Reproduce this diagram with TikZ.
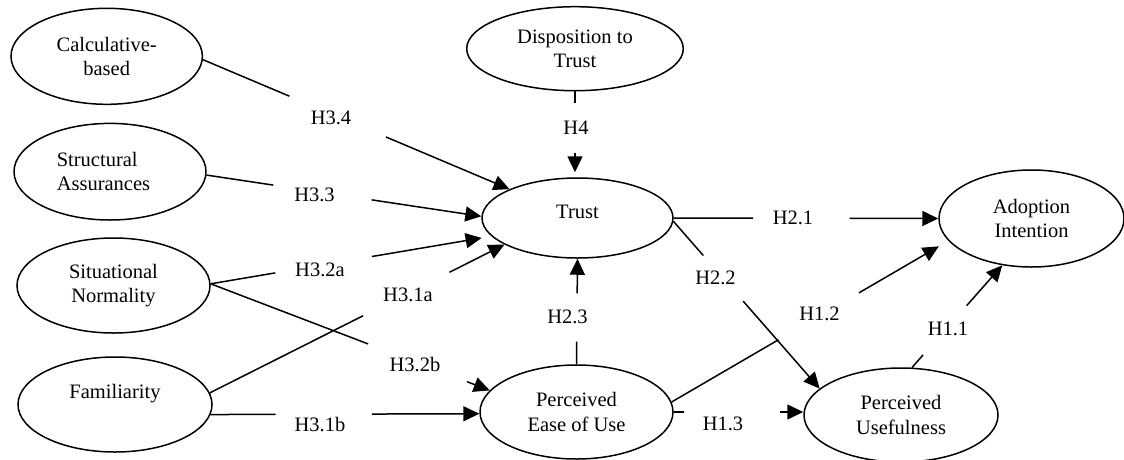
\documentclass[tikz,border=0pt]{standalone}
\usepackage{fontspec}
\setmainfont{Liberation Serif}
\usetikzlibrary{shapes.geometric,arrows.meta,calc}
\newcommand\hypline[5]{%
  \draw[conn] (#1) -- ($(#1)!#3!(#2)$);
  \draw[conn,arr,#5] ($(#1)!#4!(#2)$) -- (#2);}
\newcommand\upby[2]{\raisebox{#1}[\height][\depth]{#2}}
\begin{document}
\begin{tikzpicture}[x=1pt,y=-1pt,
  every node/.style={font=\fontsize{20.5}{24.5}\selectfont},
  ell/.style={draw, ellipse, line width=1.5pt, inner sep=0pt, align=center},
  lbl/.style={inner sep=0pt},
  conn/.style={line width=1.5pt},
  arr/.style={-{Triangle[length=16pt,width=15pt]}}]
\useasboundingbox (0,0) rectangle (1124,459);

% constructs
\node[ell, minimum width=191.4pt, minimum height=96pt]   (calc)   at (106.7,56.3) {Calculative-\\based};
\node[ell, minimum width=192pt,   minimum height=96.6pt, align=left] (struct) at (110,171.7) {Structural\\Assurances\hspace*{13pt}};
\node[ell, minimum width=193pt,   minimum height=95pt]   (situ)   at (113.5,285.5) {Situational\\Normality};
\node[ell, minimum width=194pt,   minimum height=95pt]   (fam)    at (115,404.5) {\upby{10.5pt}{Familiarity}};
\node[ell, minimum width=216.6pt, minimum height=84pt]   (disp)   at (575,48.7) {Disposition to\\Trust};
\node[ell, minimum width=191pt,   minimum height=80pt]   (trust)  at (577.5,218) {\upby{6pt}{Trust}};
\node[ell, minimum width=193pt,   minimum height=94pt]   (peou)   at (576.5,412) {Perceived\\Ease of Use};
\node[ell, minimum width=194pt,   minimum height=94pt]   (pu)     at (901,415) {Perceived\\Usefulness};
\node[ell, minimum width=185pt,   minimum height=97pt]   (adopt)  at (1031.5,218.5) {Adoption\\Intention};

% hypothesis labels
\node[lbl] (l34)  at (331,117.5)   {H3.4};
\node[lbl] (l33)  at (314.5,194.5) {H3.3};
\node[lbl] (l32a) at (320,270)     {H3.2a};
\node[lbl] (l31a) at (408,295)     {H3.1a};
\node[lbl] (l32b) at (415,365)     {H3.2b};
\node[lbl] (l31b) at (320,424.5)   {H3.1b};
\node[lbl] (l4)   at (576,127.5)   {H4};
\node[lbl] (l23)  at (567.5,316.5) {H2.3};
\node[lbl] (l21)  at (793,217.5)   {H2.1};
\node[lbl] (l22)  at (715.5,277.5) {H2.2};
\node[lbl] (l12)  at (819.5,313.5) {H1.2};
\node[lbl] (l13)  at (723,423.5)   {H1.3};
\node[lbl] (l11)  at (948,329)     {H1.1};

% connectors (each broken around its label)
\hypline{calc.-2}{trust.157}{0.282}{0.597}{}
\hypline{struct.-2}{trust.179}{0.243}{0.601}{}
\hypline{situ.1.5}{trust.192}{0.23}{0.574}{shorten >=10pt}
\hypline{fam.7.5}{trust.200}{0.52}{0.813}{}
\hypline{situ.1.5}{peou.166.5}{0.564}{0.918}{}
\hypline{fam.-6.2}{peou.181.8}{0.2416}{0.6}{}
\hypline{disp.south}{disp.south |- trust.north}{0.138}{0.713}{shorten >=5pt}
\hypline{peou.north}{trust.south}{0.215}{0.673}{}
\hypline{trust.east}{adopt.west}{0.30}{0.665}{}
\hypline{trust.-2}{pu.162.5}{0.2045}{0.477}{}
\hypline{peou.6}{adopt.195.3}{0.386}{0.677}{shorten >=11pt}
\hypline{peou.east}{peou.east -| pu.west}{0.076}{0.817}{}
\hypline{pu.77}{adopt.238.2}{0.123}{0.606}{}
\end{tikzpicture}
\end{document}
